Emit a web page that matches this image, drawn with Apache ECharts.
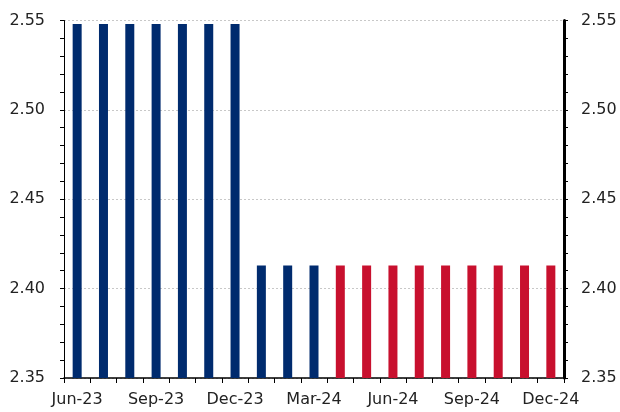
<!DOCTYPE html>
<html>
<head>
<meta charset="utf-8">
<script src="https://cdn.jsdelivr.net/npm/echarts@6/dist/echarts.min.js"></script>
<style>
  html, body { margin: 0; padding: 0; background: #fff; }
  #chart { width: 620px; height: 412px; }
</style>
</head>
<body>
<div id="chart"></div>
<script>
// months shown on the x axis
const months = ['Jun-23', 'Jul-23', 'Aug-23', 'Sep-23', 'Oct-23', 'Nov-23', 'Dec-23',
  'Jan-24', 'Feb-24', 'Mar-24', 'Apr-24', 'May-24', 'Jun-24', 'Jul-24', 'Aug-24',
  'Sep-24', 'Oct-24', 'Nov-24', 'Dec-24'];
// bar heights
const values = [2.548, 2.548, 2.548, 2.548, 2.548, 2.548, 2.548,
  2.413, 2.413, 2.413, 2.413, 2.413, 2.413, 2.413, 2.413,
  2.413, 2.413, 2.413, 2.413];
// first month drawn in red
const forecastFrom = 'Apr-24';

const blue = '#002B6E';
const red = '#C8102E';
const textColor = '#222';
const font = 'DejaVu Sans, Verdana, sans-serif';

const chart = echarts.init(document.getElementById('chart'));

const yBase = {
  type: 'value',
  min: 2.35,
  max: 2.55,
  interval: 0.05,
  axisLabel: {
    color: textColor, fontSize: 16, fontFamily: font,
    formatter: v => v.toFixed(2)
  },
  axisTick: { show: true, length: 4, lineStyle: { color: '#000' } },
  minorTick: { show: true, splitNumber: 5, length: 4, lineStyle: { color: '#000' } }
};

chart.setOption({
  animation: false,
  grid: { left: 64, right: 56, top: 20.5, bottom: 34 },
  xAxis: {
    type: 'category',
    data: months,
    boundaryGap: true,
    axisLine: { lineStyle: { color: '#000', width: 1.5 } },
    axisTick: { show: true, interval: 0, length: 5, lineStyle: { color: '#000' } },
    axisLabel: { interval: 2, color: textColor, fontSize: 16, fontFamily: font, margin: 14 }
  },
  yAxis: [
    Object.assign({}, yBase, {
      position: 'left',
      axisLine: { show: true, lineStyle: { color: '#000', width: 1 } },
      axisLabel: Object.assign({}, yBase.axisLabel, { margin: 19 }),
      splitLine: { show: true, lineStyle: { color: '#c8c8c8', type: [2, 2], width: 1 } }
    }),
    Object.assign({}, yBase, {
      position: 'right',
      axisLine: { show: true, lineStyle: { color: '#000', width: 3 } },
      axisLabel: Object.assign({}, yBase.axisLabel, { margin: 17 }),
      splitLine: { show: false }
    })
  ],
  series: [{
    type: 'bar',
    data: values,
    barWidth: 9,
    itemStyle: {
      color: p => (p.dataIndex >= months.indexOf(forecastFrom) ? red : blue)
    }
  }]
});
</script>
</body>
</html>
